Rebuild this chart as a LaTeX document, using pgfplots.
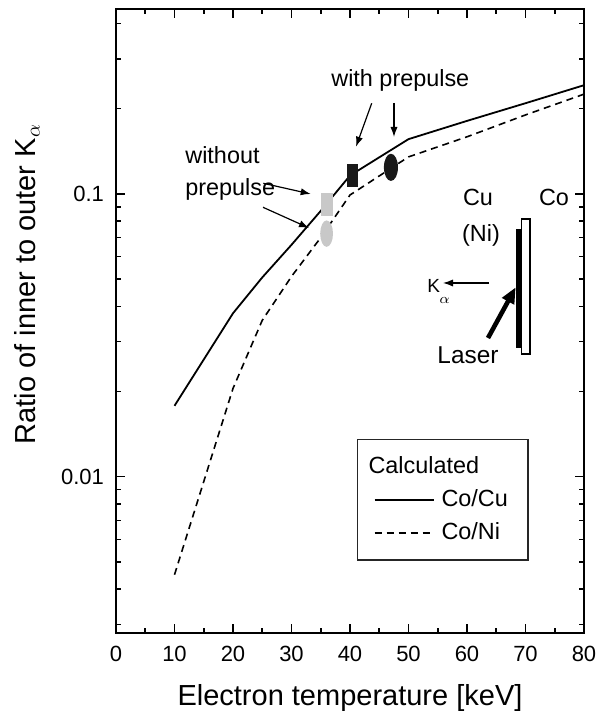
\documentclass[border=0pt]{standalone}
\usepackage{fontspec}
\setmainfont{Liberation Sans}
\usepackage{pgfplots}
\usepackage{pgfplotstable}
\pgfplotsset{compat=1.18}
\usetikzlibrary{arrows.meta}

% tall filled markers for the measured ratios
\pgfdeclareplotmark{vrect}{%
  \pgfpathrectangle{\pgfpoint{-3pt}{-5.75pt}}{\pgfpoint{6pt}{11.5pt}}%
  \pgfusepathqfill}
\pgfdeclareplotmark{vellipse}{%
  \pgfpathellipse{\pgfpointorigin}{\pgfpoint{3.2pt}{0pt}}{\pgfpoint{0pt}{6.6pt}}%
  \pgfusepathqfill}

% calculated ratio of inner to outer K-alpha
\pgfplotstableread{
T     ratio
10    0.0178
20    0.0378
25    0.0506
30    0.066
35    0.087
40    0.116
50    0.156
60    0.181
70    0.209
80    0.242
}\cocu
\pgfplotstableread{
T     ratio
10    0.0045
20    0.0205
25    0.0357
30    0.051
35    0.070
40    0.099
50    0.135
60    0.159
70    0.190
80    0.225
}\coni
% measurements
\pgfplotstableread{
T     ratio
36.0  0.0918
}\noprerect
\pgfplotstableread{
T     ratio
36.0  0.0723
}\noprecirc
\pgfplotstableread{
T     ratio
40.4  0.116
}\prerect
\pgfplotstableread{
T     ratio
47.0  0.124
}\precirc

\definecolor{lightgrey}{RGB}{200,200,200}
\definecolor{darkmark}{RGB}{25,25,25}

\begin{document}
\begin{tikzpicture}
\begin{axis}[
  name=main,
  at={(0,0)}, anchor=south west,
  scale only axis,
  width=234pt, height=312pt,
  xmin=0, xmax=80,
  ymode=log, ymin=0.0028, ymax=0.45,
  xtick={0,10,...,80},
  minor x tick num=1,
  log ticks with fixed point,
  /pgf/number format/assume math mode=true,
  tick label style={font=\fontsize{11}{13}\selectfont},
  xticklabel style={yshift=-3pt},
  yticklabel style={xshift=-2.5pt},
  tick align=inside,
  tick pos=both,
  major tick length=4.5pt,
  minor tick length=2.3pt,
  every tick/.style={black, line width=0.8pt},
  axis line style={line width=1.1pt},
  xlabel={Electron temperature [keV]},
  ylabel={Ratio of inner to outer K$_{\alpha}$},
  label style={font=\fontsize{14.5}{17}\selectfont},
  xlabel style={at={(axis description cs:0.5,-0.1154)}, anchor=base},
  ylabel style={at={(axis description cs:-0.19,0.559)}, anchor=center},
  legend style={
    at={(axis description cs:0.515,0.311)}, anchor=north west,
    draw=black!85, line width=0.7pt,
    font=\fontsize{11.7}{14}\selectfont,
    inner xsep=8pt, inner ysep=6.5pt,
    row sep=2.6pt,
    cells={anchor=west},
  },
  legend image code/.code={\draw[#1] (0pt,0pt) -- (29.5pt,0pt);},
]
\addlegendimage{empty legend}
\addlegendentry{\hspace*{-35pt}Calculated}
\addplot[black, line width=0.9pt] table[x=T, y=ratio] {\cocu};
\addlegendentry{\hspace*{1.5pt}Co/Cu}
\addplot[black, line width=0.8pt, dash pattern=on 3.5pt off 2.5pt] table[x=T, y=ratio] {\coni};
\addlegendentry{\hspace*{1.5pt}Co/Ni}

\addplot[only marks, mark=vrect, mark options={fill=lightgrey, draw=none}, forget plot] table[x=T, y=ratio] {\noprerect};
\addplot[only marks, mark=vellipse, mark options={fill=lightgrey, draw=none}, forget plot] table[x=T, y=ratio] {\noprecirc};
\addplot[only marks, mark=vrect, mark options={fill=darkmark, draw=none, xscale=0.92}, forget plot] table[x=T, y=ratio] {\prerect};
\addplot[only marks, mark=vellipse, mark options={fill=darkmark, draw=none, xscale=1.1, yscale=1.03}, forget plot] table[x=T, y=ratio] {\precirc};
\end{axis}

% annotations, in pixel-like units measured from the page's top-left corner
\begin{scope}[x=0.5pt, y=-0.5pt, shift={(-58pt,316.5pt)},
  note/.style={font=\fontsize{11.7}{14}\selectfont, inner sep=0pt},
  thinarrow/.style={line width=0.6pt, -{Latex[length=5pt, width=3.6pt]}}]
  \node[note, anchor=base west] at (331,87) {with prepulse};
  \draw[thinarrow] (371.7,103.3) -- (356,146.7);
  \draw[thinarrow] (394,103) -- (394,137);

  \node[note, anchor=base west] at (185,164) {without};
  \node[note, anchor=base west] at (185,196) {prepulse};
  \draw[thinarrow] (263.3,183.3) -- (310.7,194);
  \draw[thinarrow] (263,207.3) -- (309,228);

  % target sketch
  \node[note, anchor=base] at (478,206) {Cu};
  \node[note, anchor=base] at (481,242) {(Ni)};
  \node[note, anchor=base] at (554,206) {Co};
  \fill[black] (516,229) rectangle (522,348);
  \draw[black, line width=0.6pt, fill=white] (521.5,219) rectangle (530,354);
  \node[font=\fontsize{12.2}{14}\selectfont, inner sep=0pt, anchor=base] at (468,364) {Laser};
  \draw[line width=2.3pt, -{Triangle[length=8pt, width=6.5pt]}] (488,338) -- (515.7,287.3);
  \node[font=\fontsize{9.5}{11}\selectfont, inner sep=0pt, anchor=base west] at (427,293) {K};
  \node[inner sep=0pt, anchor=base west] at (439,304) {$\scriptstyle\alpha$};
  \draw[line width=0.6pt, -{Latex[length=5pt, width=3.6pt]}] (489,283) -- (443,283);
\end{scope}

\pgfresetboundingbox
\useasboundingbox (-58pt,-39pt) rectangle (245pt,316.5pt);
\end{tikzpicture}
\end{document}
